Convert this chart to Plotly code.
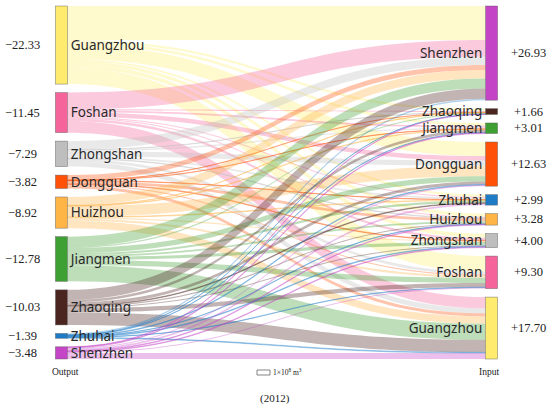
import plotly.graph_objects as go

# Cities, same order as drawn on each side
out_cities = ['Guangzhou', 'Foshan', 'Zhongshan', 'Dongguan', 'Huizhou',
              'Jiangmen', 'Zhaoqing', 'Zhuhai', 'Shenzhen']
in_cities = ['Shenzhen', 'Zhaoqing', 'Jiangmen', 'Dongguan', 'Zhuhai',
             'Huizhou', 'Zhongshan', 'Foshan', 'Guangzhou']

out_values = [22.33, 11.45, 7.29, 3.82, 8.92, 12.78, 10.03, 1.39, 3.48]
in_values = [26.93, 1.66, 3.01, 12.63, 2.99, 3.28, 4.00, 9.30, 17.70]

# flows[i][j]: from out_cities[i] to in_cities[j] (estimated from band widths)
flows = [
    [9.70, 0.66, 0.77, 4.00, 0.60, 0.90, 1.20, 4.50, 0.00],
    [4.80, 0.30, 0.50, 1.30, 0.30, 0.30, 0.70, 0.00, 3.25],
    [2.40, 0.10, 0.40, 1.50, 0.50, 0.20, 0.00, 0.80, 1.39],
    [1.40, 0.05, 0.10, 0.00, 0.10, 0.80, 0.20, 0.30, 0.87],
    [2.40, 0.10, 0.20, 3.00, 0.20, 0.00, 0.30, 0.60, 2.12],
    [2.90, 0.30, 0.00, 1.53, 0.59, 0.48, 0.90, 1.50, 4.58],
    [2.90, 0.00, 0.74, 0.80, 0.20, 0.30, 0.30, 1.20, 3.59],
    [0.43, 0.05, 0.10, 0.20, 0.00, 0.10, 0.20, 0.10, 0.21],
    [0.00, 0.10, 0.20, 0.30, 0.50, 0.20, 0.20, 0.30, 1.69],
]

city_colors = {
    'Guangzhou': '#FFEC6E',
    'Foshan': '#F5659C',
    'Zhongshan': '#BEBEBE',
    'Dongguan': '#FF5208',
    'Huizhou': '#FFB446',
    'Jiangmen': '#3E9F33',
    'Zhaoqing': '#4A241E',
    'Zhuhai': '#1E7BC6',
    'Shenzhen': '#C445C6',
}


def rgba(hex_color, a):
    h = hex_color.lstrip('#')
    return f"rgba({int(h[0:2], 16)},{int(h[2:4], 16)},{int(h[4:6], 16)},{a})"


W, H = 550, 406
dom_x = [61 / W, 492 / W]
dom_y = [1 - 359 / H, 1 - 6 / H]
pad = 8.5
n = len(out_cities)

# node sizes as plotly will see them
out_sums = [sum(r) for r in flows]
in_sums = [sum(flows[i][j] for i in range(n)) for j in range(n)]
h_px = (dom_y[1] - dom_y[0]) * H
ky = min((h_px - (n - 1) * pad) / sum(out_sums), (h_px - (n - 1) * pad) / sum(in_sums))


def centers(sums):
    res, acc = [], 0.0
    for i, v in enumerate(sums):
        res.append((acc * ky + i * pad + v * ky / 2) / h_px)
        acc += v
    return res


out_y = centers(out_sums)
in_y = centers(in_sums)

labels = out_cities + in_cities
node_colors = [city_colors[c] for c in labels]
node_x = [0.001] * n + [0.999] * n
node_y = out_y + in_y

src, tgt, val, lcol = [], [], [], []
for i in range(n):
    for j in range(n):
        if flows[i][j] > 0:
            src.append(i)
            tgt.append(n + j)
            val.append(flows[i][j])
            lcol.append(rgba(city_colors[out_cities[i]], 0.34))

fig = go.Figure(go.Sankey(
    arrangement='fixed',
    domain=dict(x=dom_x, y=dom_y),
    node=dict(
        label=labels,
        color=node_colors,
        x=node_x,
        y=node_y,
        pad=pad,
        thickness=12,
        line=dict(color='rgba(90,90,90,0.7)', width=0.6),
    ),
    link=dict(source=src, target=tgt, value=val, color=lcol),
    textfont=dict(family='Noto Sans', size=13.5, color='#2a2a2a', shadow='none'),
    hoverinfo='none',
))

serif = dict(family='Liberation Serif', size=12.5, color='#222222')


def to_paper(yc):
    return dom_y[1] - yc * (dom_y[1] - dom_y[0])


# value labels beside each node
for v, yc in zip(out_values, out_y):
    fig.add_annotation(x=22 / W, y=to_paper(yc), xref='paper', yref='paper',
                       text=f"\u2212{v:.2f}", showarrow=False, font=serif,
                       xanchor='center', yanchor='middle')
for v, yc in zip(in_values, in_y):
    fig.add_annotation(x=528 / W, y=to_paper(yc), xref='paper', yref='paper',
                       text=f"+{v:.2f}", showarrow=False, font=serif,
                       xanchor='center', yanchor='middle')

small = dict(family='Liberation Serif', size=9.5, color='#222222')
fig.add_annotation(x=65 / W, y=1 - 372 / H, xref='paper', yref='paper', text='Output',
                   showarrow=False, font=small, xanchor='center', yanchor='middle')
fig.add_annotation(x=489 / W, y=1 - 372 / H, xref='paper', yref='paper', text='Input',
                   showarrow=False, font=small, xanchor='center', yanchor='middle')
fig.add_annotation(x=271 / W, y=1 - 372 / H, xref='paper', yref='paper',
                   text='1×10<sup>8</sup> m<sup>3</sup>', xanchor='left', yanchor='middle',
                   showarrow=False, font=dict(family='Liberation Serif', size=7.5, color='#222222'))
fig.add_shape(type='rect', xref='paper', yref='paper',
              x0=257 / W, x1=270 / W, y0=1 - 375 / H, y1=1 - 370 / H,
              line=dict(color='#666666', width=0.8), fillcolor='white')
fig.add_annotation(x=275 / W, y=1 - 398 / H, xref='paper', yref='paper', text='(2012)',
                   showarrow=False, xanchor='center', yanchor='middle',
                   font=dict(family='Liberation Serif', size=11, color='#222222'))

fig.update_layout(
    width=W, height=H,
    margin=dict(l=0, r=0, t=0, b=0),
    paper_bgcolor='white',
    plot_bgcolor='white',
)

# the page body has a default 8px margin; drop it so the figure fills the window
fig.write_html("out.html", config={'displayModeBar': False},
               post_script="document.body.style.margin='0';document.body.style.overflow='hidden';")
